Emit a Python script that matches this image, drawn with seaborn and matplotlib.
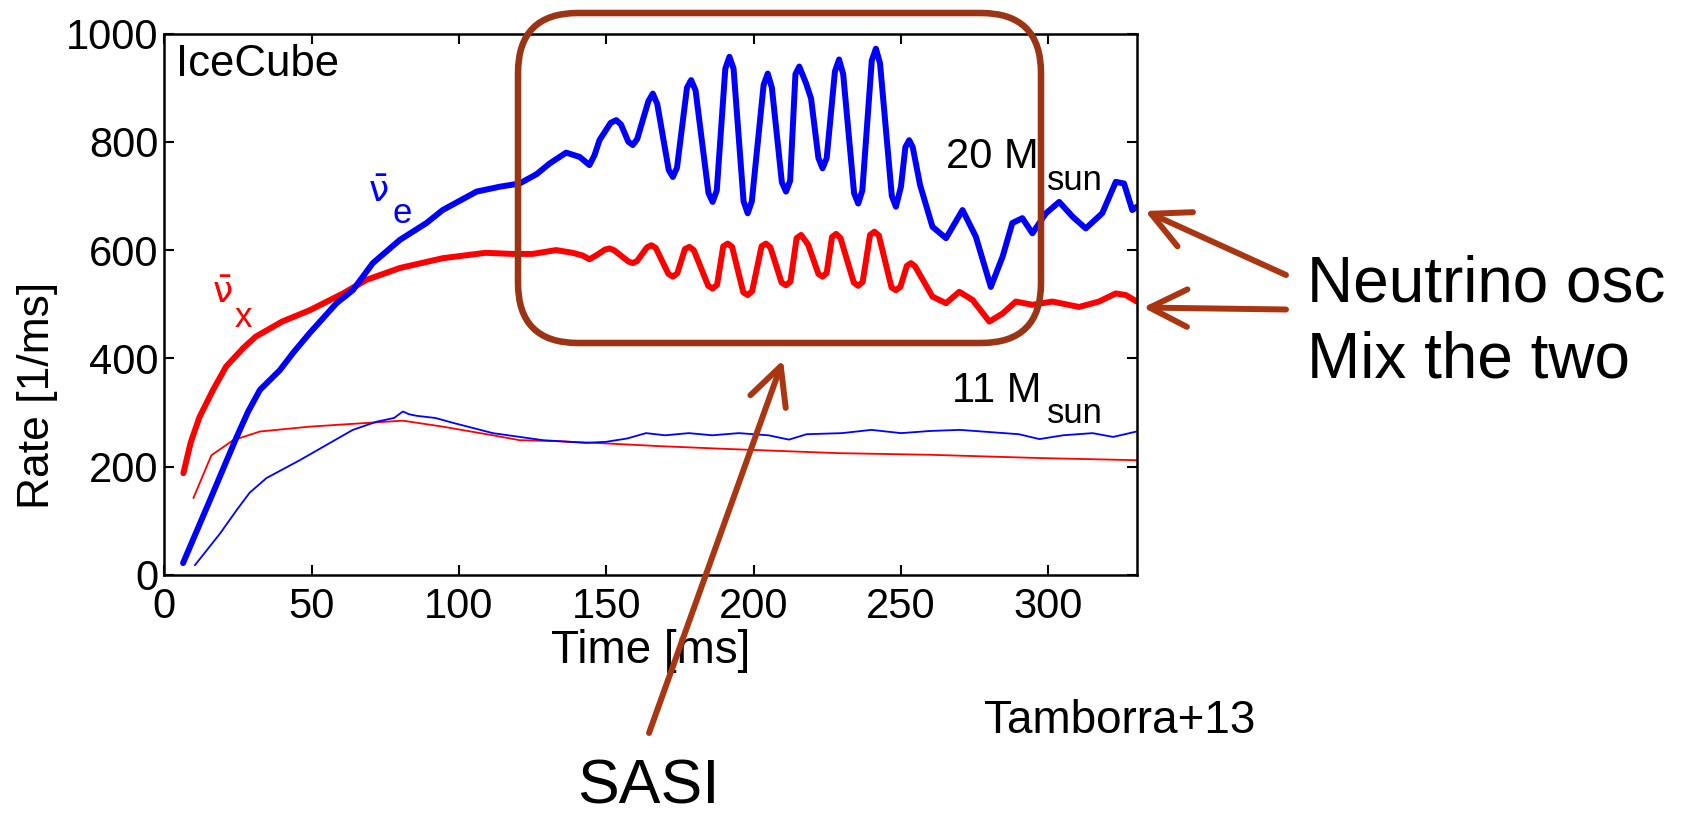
import matplotlib
matplotlib.use("Agg")
import numpy as np
import pandas as pd
import seaborn as sns
import matplotlib.pyplot as plt
from matplotlib import transforms as mtransforms
from matplotlib.patches import FancyBboxPatch, FancyArrowPatch

# ---------------- data ----------------
# 20 Msun, anti-nu_e (thick blue)
t_e20 = [6.4, 10, 15.5, 20, 24.6, 28.5, 32.5, 39.2, 44, 49.4, 58.5, 64, 70.8, 80, 89, 94.5, 106,
         113.8, 120.6, 126.3, 130.8, 136.4, 141, 144.3, 146, 147.7, 151.5, 153.4, 155,
         157.5, 159, 160.5, 164.3, 165.8, 167.3, 171.2, 172.6, 174, 177.4, 178.8, 180.3,
         184.7, 186.1, 187.5, 190.4, 191.8, 193.2, 196.6, 198, 199.4, 203.4, 204.8, 206.2,
         209.6, 211, 212.4, 214.2, 215.5, 217.8, 219.5, 222, 223.4, 224.8, 227.6, 229,
         230.4, 234.1, 235.5, 236.9, 240.1, 241.5, 242.9, 246.9, 248.3, 250, 251.5, 252.8,
         254, 256.5, 260.7, 265.3, 270.9, 275.4, 280.5, 284.5, 287.8, 291.2, 294.6, 299.2,
         303.7, 308.2, 312.7, 318.3, 322.9, 325.7, 328.5, 330]
r_e20 = [22, 68, 138, 196, 255, 302, 342, 378, 412, 447, 502, 526, 576, 619, 650, 674, 708,
         717, 723, 740, 760, 780, 772, 757, 775, 803, 835, 840, 832,
         800, 794, 805, 875, 889, 870, 748, 735, 752, 900, 914, 895,
         705, 689, 710, 935, 957, 935, 690, 668, 690, 905, 926, 900,
         725, 708, 728, 925, 939, 908, 880, 770, 751, 770, 930, 952,
         925, 705, 686, 710, 950, 972, 945, 700, 680, 717, 790, 803,
         790, 720, 643, 622, 674, 625, 532, 588, 650, 659, 631, 668,
         689, 662, 640, 668, 726, 723, 674, 680]

# 20 Msun, anti-nu_x (thick red)
t_x20 = [6.5, 9, 12, 16.6, 21, 26.8, 31, 40, 49.4, 60.7, 68.6, 80, 94.5, 109, 118, 125, 133, 138.6,
         142, 144.3, 146.5, 149.6, 151.1, 152.6, 157.5, 159, 160.5, 163.8, 165.3, 166.8,
         171.1, 172.6, 174.1, 176.7, 178.2, 179.7, 184.6, 186.1, 187.6, 189.7, 191.2,
         192.7, 196.5, 198, 199.5, 202.7, 204.2, 205.7, 209.5, 211, 212.5, 214.6, 216.1,
         218.5, 222, 223.4, 224.8, 226.6, 228, 229.5, 234, 235.5, 237, 239.5, 241, 242.5,
         246.8, 248.3, 249.8, 252, 253.4, 254.8, 260.7, 265.3, 269.8, 274.3, 280, 284.5,
         289, 294.6, 301.4, 310.4, 317.2, 322.9, 326.3, 330]
r_x20 = [188, 245, 292, 342, 385, 419, 440, 468, 489, 520, 545, 567, 585, 595, 593, 593, 600, 595,
         590, 583, 590, 601, 603, 600, 579, 576, 580, 605, 609, 604,
         556, 551, 557, 602, 606, 600, 534, 529, 536, 607, 612,
         606, 522, 517, 524, 607, 612, 605, 540, 535, 542, 622, 628,
         610, 556, 551, 558, 624, 630, 622, 540, 534, 541, 628, 634, 627,
         531, 526, 532, 571, 576, 570, 514, 502, 523, 508, 468, 483,
         505, 499, 505, 495, 505, 520, 517, 505]

# 11 Msun, anti-nu_x (thin red)
t_x11 = [9.9, 16, 23.4, 32.5, 49.4, 66.4, 81, 94.5, 111.5, 120.6, 134, 150, 168, 190,
         229, 260, 297, 330]
r_x11 = [142, 221, 249, 265, 274, 280, 285, 274, 258, 249, 247, 243, 238, 233,
         225, 222, 216, 212]

# 11 Msun, anti-nu_e (thin blue)
t_e11 = [10.4, 19, 24.6, 29, 34.7, 46, 55, 64, 72, 78, 81, 83, 85.6, 92, 98, 111.5, 128.5,
         143, 150, 157, 163.5, 170, 178, 186, 195, 205, 212, 218, 230, 240, 250, 260,
         270, 280, 290, 297, 305, 315, 322, 330]
r_e11 = [18, 77, 120, 152, 179, 212, 240, 268, 283, 290, 302, 297, 294, 290, 281, 262, 249,
         244, 246, 252, 262, 258, 262, 258, 262, 258, 250, 260, 262, 268, 262, 266,
         268, 264, 260, 251, 258, 262, 255, 265]

x_ticks = [0, 50, 100, 150, 200, 250, 300]
y_ticks = [0, 200, 400, 600, 800, 1000]

# ---------------- style ----------------
sns.set_theme(style="ticks")
plt.rcParams["font.family"] = ["Liberation Sans", "DejaVu Sans"]
plt.rcParams["mathtext.fontset"] = "dejavusans"

W, H = 1691, 815
fig = plt.figure(figsize=(W / 100, H / 100), dpi=100)
fig.patch.set_facecolor("white")

L, R, T, B = 164.2, 1136.7, 33.5, 575.0
ax = fig.add_axes([L / W, 1 - B / H, (R - L) / W, (B - T) / H])
ax.set_facecolor("white")

BLUE = "#0000ff"
RED = "#ff0000"
line_kw = dict(sort=False, estimator=None, solid_joinstyle="round", solid_capstyle="round")

sns.lineplot(x=t_x11, y=r_x11, ax=ax, color=RED, linewidth=1.3, **line_kw)
sns.lineplot(x=t_e11, y=r_e11, ax=ax, color=BLUE, linewidth=1.3, **line_kw)
sns.lineplot(x=t_x20, y=r_x20, ax=ax, color=RED, linewidth=4.3, **line_kw)
sns.lineplot(x=t_e20, y=r_e20, ax=ax, color=BLUE, linewidth=4.3, **line_kw)

ax.set_xlim(0, 330)
ax.set_ylim(0, 1000)
ax.set_xticks(x_ticks)
ax.set_yticks(y_ticks)
ax.set_xticklabels([str(v) for v in x_ticks])
ax.set_yticklabels([str(v) for v in y_ticks])
ax.tick_params(direction="in", length=7.5, width=1.5, top=True, right=True,
               labelsize=30, colors="black")
ax.tick_params(axis="x", pad=9)
ax.tick_params(axis="y", pad=4)
for s in ax.spines.values():
    s.set_visible(True)
    s.set_linewidth(1.8)
    s.set_color("black")

ax.set_xlabel("Time [ms]", fontsize=33, color="black")
ax.xaxis.set_label_coords(0.5, -0.0997)
ax.set_ylabel("Rate [1/ms]", fontsize=32, color="black")
ax.yaxis.set_label_coords(-0.1094, 0.332)

# pixel transform: reference pixel coords (origin top-left)
P = mtransforms.Affine2D().scale(0.01, -0.01).translate(0, H / 100) + fig.dpi_scale_trans

def txt(x, y, s, size, color="black", **kw):
    fig.text(x, y, s, transform=P, fontsize=size, color=color, va="baseline", **kw)

txt(176, 75.5, "IceCube", 31.5)
txt(946, 168.3, "20 M", 30)
txt(1046.7, 190, "sun", 25)
txt(952, 401.7, "11 M", 30)
txt(1046.7, 423, "sun", 25)
txt(368, 202, r"$\bar{\mathrm{\nu}}$", 26, BLUE)
txt(393, 223, "e", 25, BLUE)
txt(211.7, 303, r"$\bar{\mathrm{\nu}}$", 26, RED)
txt(235, 326.7, "x", 25, RED)
txt(984, 733, "Tamborra+13", 33)
txt(1307, 302, "Neutrino osc", 46)
txt(1307, 377, "Mix the two", 46)
txt(648, 803, "SASI", 45, ha="center")

BOX = "#9a3414"
ARR = "#a93611"
box = FancyBboxPatch((518, 13), 523, 330, boxstyle="round,pad=0,rounding_size=60",
                     transform=P, fill=False, edgecolor=BOX, linewidth=4.7)
fig.add_artist(box)

for (xa, ya), (xb, yb) in [((1286, 275), (1145, 211)),
                           ((1286, 309.5), (1143, 307.5)),
                           ((649, 733), (783, 360))]:
    arr = FancyArrowPatch(posA=(xa, ya), posB=(xb, yb), transform=P,
                          arrowstyle="->,head_length=0.9,head_width=0.45",
                          mutation_scale=30, linewidth=4.3, color=ARR,
                          shrinkA=0, shrinkB=0)
    fig.add_artist(arr)

fig.savefig("out.png", dpi=100, facecolor="white")
